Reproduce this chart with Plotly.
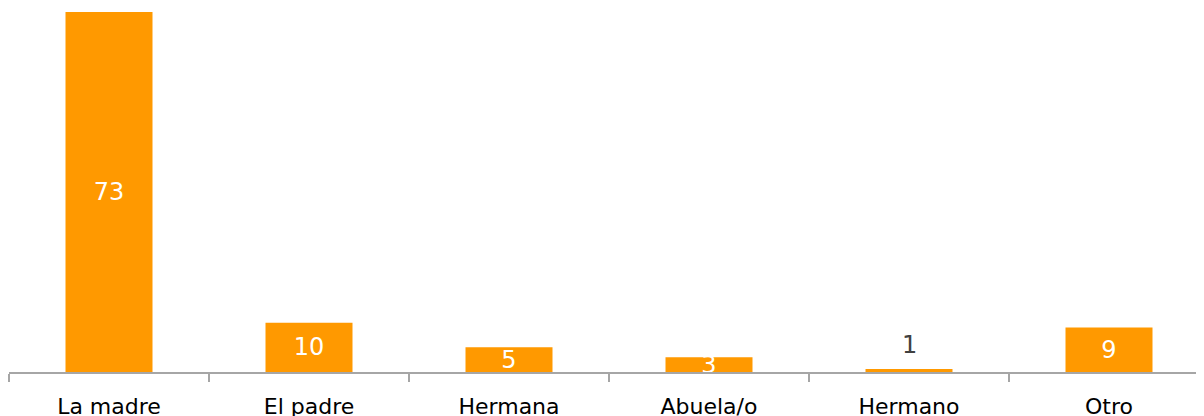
import plotly.graph_objects as go

categorias = ["La madre", "El padre", "Hermana", "Abuela/o", "Hermano", "Otro"]
# Hermano se ve como una barra de ~0.6 que se etiqueta redondeada a 1
valores = [73, 10, 5, 3, 0.6, 9]

naranja = "#FF9900"
gris_eje = "#A6A6A6"
fuente = "DejaVu Sans"

etiquetas = [f"{v:.0f}" for v in valores]
# texto dentro de la barra salvo la que es demasiado baja (va encima)
dentro = [v >= 2 for v in valores]

fig = go.Figure()
fig.add_trace(go.Bar(
    x=categorias,
    y=valores,
    marker=dict(color=naranja, line=dict(width=0)),
    text=[t if d else "" for t, d in zip(etiquetas, dentro)],
    textposition="inside",
    insidetextanchor="middle",
    textangle=0,
    constraintext="none",
    textfont=dict(family=fuente, size=24, color="white"),
    cliponaxis=True,
    showlegend=False,
    hoverinfo="skip",
))

for c, v, t, d in zip(categorias, valores, etiquetas, dentro):
    if not d:
        fig.add_annotation(
            x=c, y=v, text=t, showarrow=False,
            yanchor="bottom", yshift=8,
            font=dict(family=fuente, size=24, color="#404040"),
        )

# la página deja 8px de margen, así que la figura mide 1196x408
fig.update_layout(
    width=1196,
    height=408,
    margin=dict(l=1, r=0, t=0, b=44, pad=0),
    paper_bgcolor="white",
    plot_bgcolor="white",
    bargap=0.565,
    font=dict(family=fuente, size=22, color="black"),
)
fig.update_xaxes(
    range=[-0.5, 5.475],
    automargin=False,
    showline=True,
    linecolor=gris_eje,
    linewidth=1.5,
    ticks="outside",
    tickson="boundaries",
    ticklen=8,
    tickcolor=gris_eje,
    tickwidth=1.5,
    ticklabelstandoff=14,
    tickfont=dict(family=fuente, size=22, color="black"),
    showgrid=False,
    zeroline=False,
)
fig.update_yaxes(
    range=[0, 73.8],
    automargin=False,
    visible=False,
    showgrid=False,
    zeroline=False,
)

fig.write_html("out.html")
